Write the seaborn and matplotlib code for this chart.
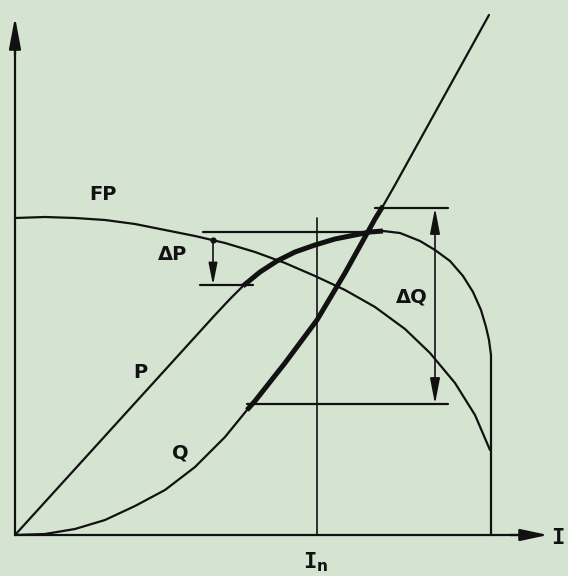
import numpy as np
import matplotlib
matplotlib.use("Agg")
import matplotlib.pyplot as plt
import seaborn as sns

# --- DATA (diagram units, origin at the axes corner) ---
fp_x = [0, 30, 60, 90, 120, 150, 180, 210, 240, 270, 300, 330, 360, 390, 415, 440, 460, 475]
fp_y = [317, 318, 317, 315, 311, 305, 299, 292, 283, 272, 259, 245, 228, 206, 182, 152, 120, 85]

p_x = [0, 100, 200, 215, 228, 245, 262, 280, 300, 320, 340, 355, 368, 385,
       405, 420, 435, 448, 458, 466, 471, 474, 476, 476]
p_y = [0, 110, 220, 236, 249, 263, 274, 283, 290, 296, 300, 303, 304, 302,
       294, 285, 274, 259, 243, 225, 208, 195, 180, 0]

q_x = [0, 30, 60, 90, 120, 150, 180, 210, 232, 240, 270, 302, 330, 360, 368, 380, 474]
q_y = [0, 1, 6, 15, 29, 45, 68, 98, 125, 134, 172, 215, 262, 316, 329, 350, 520]

thick_range = (228, 368)   # heavy section of P and Q around the rated point
i_n = 302                  # rated current
dp_top, dp_bottom, dp_x = 303, 250, 198
dq_top, dq_bottom, dq_x = 327, 131, 420

labels = {"FP": (88, 340), "ΔP": (158, 280), "P": (125, 163),
          "Q": (165, 82), "ΔQ": (397, 238)}

BG = "#d5e3d1"
INK = "#111111"

sns.set_style("white")
plt.rcParams["font.family"] = ["DejaVu Sans"]

fig = plt.figure(figsize=(5.68, 5.76), dpi=100)
fig.patch.set_facecolor(BG)
ax = fig.add_axes([0, 0, 1, 1])
ax.set_facecolor(BG)
ax.set_xlim(-15, 553)
ax.set_ylim(-41, 535)
ax.axis("off")

thin = 1.6
heavy = 3.6

# curves
for xs, ys in ((fp_x, fp_y), (p_x, p_y), (q_x, q_y)):
    sns.lineplot(x=xs, y=ys, sort=False, estimator=None, color=INK, lw=thin, ax=ax)

# heavy sections
for xs, ys in ((p_x, p_y), (q_x, q_y)):
    xs = np.array(xs); ys = np.array(ys)
    m = (xs >= thick_range[0]) & (xs <= thick_range[1]) & (np.arange(len(xs)) < len(xs) - 1)
    ax.plot(xs[m], ys[m], color=INK, lw=heavy, solid_capstyle="butt", solid_joinstyle="round")

# axes with arrows
ax.plot([0, 0], [0, 500], color=INK, lw=thin)
ax.plot([0, 515], [0, 0], color=INK, lw=thin)
ax.annotate("", xy=(0, 518), xytext=(0, 480),
            arrowprops=dict(arrowstyle="-|>,head_length=1.6,head_width=0.3",
                            color=INK, lw=thin, shrinkA=0, shrinkB=0, mutation_scale=12))
ax.annotate("", xy=(533, 0), xytext=(495, 0),
            arrowprops=dict(arrowstyle="-|>,head_length=1.4,head_width=0.3",
                            color=INK, lw=thin, shrinkA=0, shrinkB=0, mutation_scale=12))

# I_n vertical
ax.plot([i_n, i_n], [0, 317], color=INK, lw=1.2)

# Delta P construction
ax.plot([188, 353], [dp_top, dp_top], color=INK, lw=thin)
ax.plot([185, 238], [dp_bottom, dp_bottom], color=INK, lw=thin)
ax.plot([dp_x], [295], "o", color=INK, ms=3.5)
ax.annotate("", xy=(dp_x, dp_bottom), xytext=(dp_x, 295),
            arrowprops=dict(arrowstyle="-|>,head_length=1.1,head_width=0.22",
                            color=INK, lw=1.2, shrinkA=0, shrinkB=0, mutation_scale=12))

# Delta Q construction
ax.plot([360, 433], [dq_top, dq_top], color=INK, lw=thin)
ax.plot([232, 433], [dq_bottom, dq_bottom], color=INK, lw=thin)
ax.annotate("", xy=(dq_x, dq_bottom), xytext=(dq_x, dq_top),
            arrowprops=dict(arrowstyle="<|-|>,head_length=1.3,head_width=0.25",
                            color=INK, lw=1.2, shrinkA=0, shrinkB=0, mutation_scale=12))

# labels
for txt, (lx, ly) in labels.items():
    ax.text(lx, ly, txt, ha="center", va="center", fontsize=14,
            fontweight="bold", color=INK)

ax.text(543, -3, "I", ha="center", va="center", fontsize=16,
        fontweight="bold", family="DejaVu Sans Mono", color=INK)
ax.text(301, -27, "I$_\\mathbf{n}$", ha="center", va="center", fontsize=16,
        fontweight="bold", family="DejaVu Sans Mono", color=INK)

fig.savefig("out.png", dpi=100, facecolor=BG)
